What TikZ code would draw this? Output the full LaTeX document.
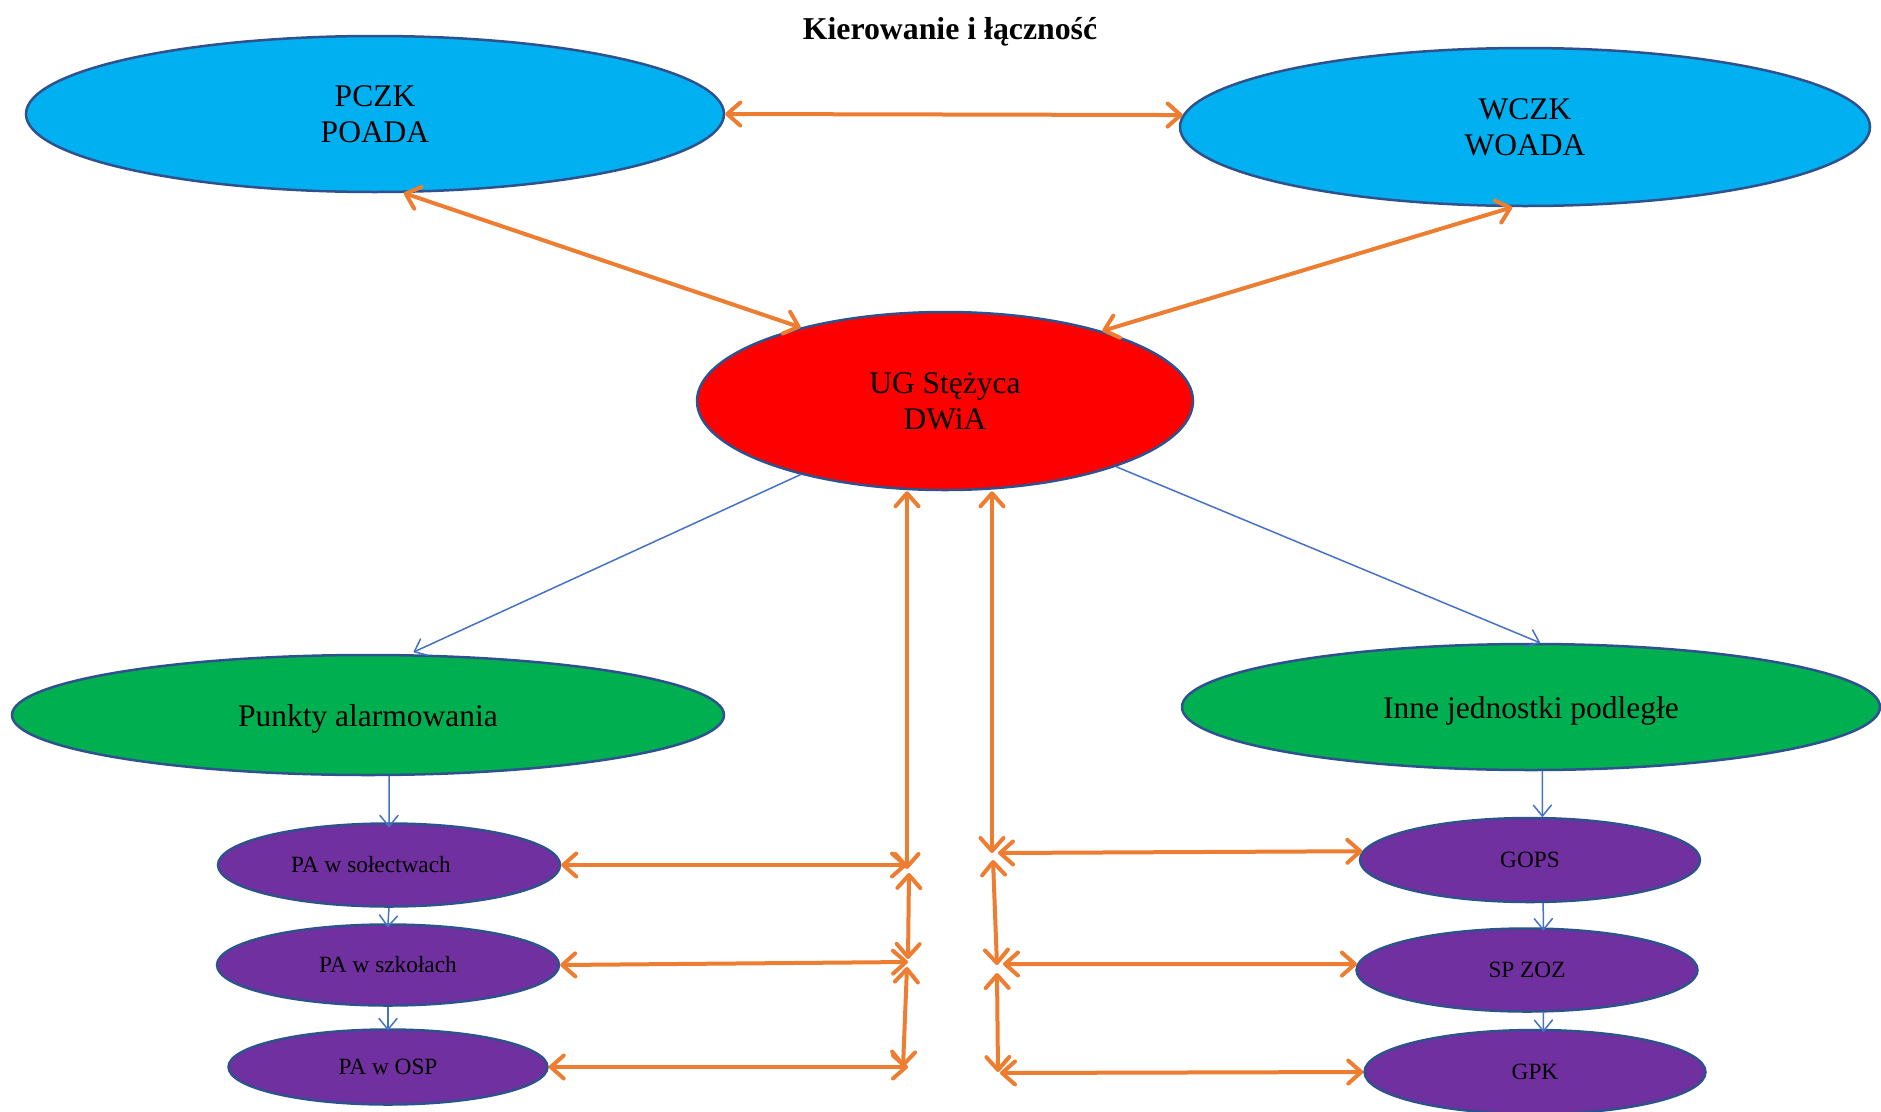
\documentclass[tikz,border=0pt]{standalone}
\usepackage{fontspec}
\setmainfont{Liberation Serif}
\usetikzlibrary{arrows.meta,shapes.geometric,calc}
\definecolor{cyanF}{HTML}{00B0F0}
\definecolor{redF}{HTML}{FF0000}
\definecolor{greenF}{HTML}{00B050}
\definecolor{purpleF}{HTML}{7030A0}
\definecolor{bordC}{HTML}{2F528F}
\definecolor{orangeC}{HTML}{ED7D31}
\definecolor{blueC}{HTML}{4472C4}
\begin{document}
\begin{tikzpicture}[x=1pt,y=-1pt,
  ell/.style={ellipse, draw=bordC, line width=2.5pt, inner sep=0pt, text=black, align=center},
  big/.style={font=\fontsize{31.5}{36}\selectfont},
  small/.style={font=\fontsize{23.3}{27}\selectfont},
  lowered/.style={text height=25pt, text depth=2.3pt},
  link/.style={draw=orangeC, line width=4pt, line cap=round,
    {Straight Barb[round,length=13pt,width=23pt]}-{Straight Barb[round,length=13pt,width=23pt]}},
  sub/.style={draw=blueC, line width=1.5pt, -{Straight Barb[round,length=11pt,width=18pt]}}]
\useasboundingbox (0,0) rectangle (1881,1111);

\node[font=\bfseries\fontsize{31.8}{36}\selectfont, anchor=base] (title) at (950,39) {Kierowanie i łączność};

\node[ell, fill=cyanF, minimum width=698pt, minimum height=156pt, big] (pczk) at (375,114) {PCZK\\POADA};
\node[ell, fill=cyanF, minimum width=690pt, minimum height=158pt, big] (wczk) at (1525,127) {WCZK\\WOADA};
\node[ell, fill=redF, minimum width=496pt, minimum height=178pt, big] (ug) at (945,401) {UG Stężyca\\DWiA};
\node[ell, fill=greenF, minimum width=712pt, minimum height=120pt, big, lowered] (pa) at (368,715) {Punkty alarmowania};
\node[ell, fill=greenF, minimum width=698pt, minimum height=126pt, big, lowered] (inne) at (1531,707) {Inne jednostki podległe};

\node[ell, fill=purpleF, minimum width=342pt, minimum height=83pt, small] (paso) at (389,865) {PA w sołectwach\hspace*{36pt}};
\node[ell, fill=purpleF, minimum width=342pt, minimum height=81pt, small] (pasz) at (388,965) {PA w szkołach};
\node[ell, fill=purpleF, minimum width=319pt, minimum height=75pt, small] (paosp) at (388,1067) {PA w OSP};
\node[ell, fill=purpleF, minimum width=340pt, minimum height=84pt, small] (gops) at (1530,860) {GOPS};
\node[ell, fill=purpleF, minimum width=341pt, minimum height=83pt, small] (spzoz) at (1527,970) {SP ZOZ};
\node[ell, fill=purpleF, minimum width=341pt, minimum height=84pt, small] (gpk) at (1535,1072) {GPK};

\coordinate (L1) at (907,869);
\coordinate (L1b) at (909,873);
\coordinate (L2) at (908,959);
\coordinate (L2b) at (907,967);
\coordinate (L3) at (903,1067);
\coordinate (H1) at (907,865);
\coordinate (H2) at (908,962);
\coordinate (H3) at (908,1067);
\coordinate (R1) at (992,853);
\coordinate (R1b) at (993,860);
\coordinate (R2) at (997,965);
\coordinate (R2b) at (997,973);
\coordinate (R3) at (998,1072);
\coordinate (G1) at (998,853);
\coordinate (G2) at (1003,964);
\coordinate (G3) at (1000,1073);

\draw[link] (pczk.east) -- (wczk.178);
\draw[link] (pczk.-70) -- (ug.153);
\draw[link] (wczk.261) -- (ug.24);
\draw[link] (L1 |- ug.south) -- (L1);
\draw[link] (L1b) -- (L2);
\draw[link] (L2b) -- (L3);
\draw[link] (paso.east) -- (H1);
\draw[link] (pasz.east) -- (H2);
\draw[link] (paosp.east) -- (H3);
\draw[link] (R1 |- ug.south) -- (R1);
\draw[link] (R1b) -- (R2);
\draw[link] (R2b) -- (R3);
\draw[link] (G1) -- (gops.177.6);
\draw[link] (G2) -- (spzoz.178);
\draw[link] (G3) -- (gpk.west);

\draw[sub, shorten >=5pt] (ug.207) -- (pa.56);
\draw[sub] (ug.339) -- (inne.82);
\draw[sub, shorten >=-5pt] (pa.289) -- (paso.north);
\draw[sub, shorten >=-4pt] (paso.south) -- (pasz.north);
\draw[sub, shorten >=-2pt] (pasz.south) -- (paosp.north);
\draw[sub] (inne.280) -- (gops.74);
\draw[sub, shorten >=-3pt] (gops.287) -- (spzoz.69);
\draw[sub, shorten >=-3pt] (spzoz.291) -- (gpk.79);
\end{tikzpicture}
\end{document}
